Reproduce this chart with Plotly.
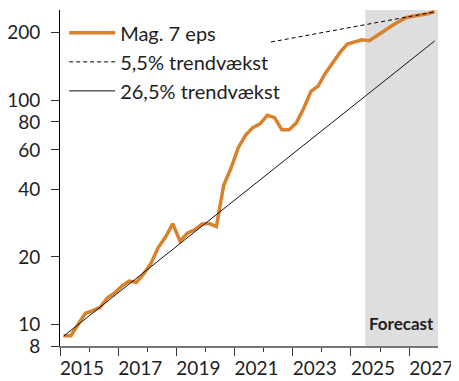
import plotly.graph_objects as go
import math

# ---- data ----
eps = [8.9, 8.9, 10.0, 11.2, 11.5, 11.9, 13.1, 13.8, 14.8, 15.6,
       15.4, 16.8, 18.7, 22.0, 24.5, 28.1, 23.5, 25.5, 26.4, 28.0,
       28.2, 27.3, 41.7, 49.7, 61.4, 69.8, 75.5, 78.5, 85.7, 83.6,
       73.8, 73.8, 79.3, 92.1, 109.7, 116.0, 132.5, 147.8, 163.5, 178.4,
       181.5, 186.3, 184.4, 193.1, 203.3, 214.0, 224.1, 233.5, 237.1, 239.6,
       243.4, 248.4]
first_quarter = 2014.375
quarter_step = 0.25
quarters = [first_quarter + quarter_step * i for i in range(len(eps))]

trend_low_x = [2014.375, 2027.125]
trend_low_y = [8.85, 184.0]      # 26,5% trendvækst
trend_high_x = [2021.5, 2027.125]
trend_high_y = [182.0, 248.0]    # 5,5% trendvækst

forecast_start = 2024.74
forecast_end = 2027.24

year_labels = ["2015", "2017", "2019", "2021", "2023", "2025", "2027"]
major_ticks = [2014.25, 2016.25, 2018.25, 2020.25, 2022.25, 2024.25, 2026.25]
minor_ticks = [2015.25, 2017.25, 2019.25, 2021.25, 2023.25, 2025.25]
y_ticks = [8, 10, 20, 40, 60, 80, 100, 200]

FONT = "Lato"
TXT = "#1e1e1e"
ORANGE = "#D9822B"

fig = go.Figure()
fig.add_trace(go.Scatter(x=quarters, y=eps, mode="lines", name="Mag. 7 eps",
                         line=dict(color=ORANGE, width=3.5)))
fig.add_trace(go.Scatter(x=trend_high_x, y=trend_high_y, mode="lines", name="5,5% trendvækst",
                         line=dict(color="#000000", width=1, dash="4px,3px")))
fig.add_trace(go.Scatter(x=trend_low_x, y=trend_low_y, mode="lines", name="26,5% trendvækst",
                         line=dict(color="#111111", width=1)))

fig.add_shape(type="rect", xref="x", yref="paper", x0=forecast_start, x1=forecast_end,
              y0=0, y1=1, fillcolor="#dedede", line=dict(width=0), layer="below")
fig.add_annotation(x=(forecast_start + forecast_end) / 2, y=0.03, xref="x", yref="paper",
                   text="<b>Forecast</b>", showarrow=False,
                   font=dict(family=FONT, size=17, color=TXT))

# page body has an 8px default margin, so the figure is sized to fit the window
fig.update_layout(
    width=451, height=373,
    margin=dict(l=52, r=21, t=2, b=35, autoexpand=False),
    paper_bgcolor="white", plot_bgcolor="white",
    font=dict(family=FONT, size=19, color=TXT),
    showlegend=True,
    legend=dict(x=0.011, y=0.99, xanchor="left", yanchor="top",
                bgcolor="rgba(0,0,0,0)", itemwidth=46,
                font=dict(family=FONT, size=20, color=TXT), tracegroupgap=0),
    xaxis=dict(range=[2014.25, forecast_end], showgrid=False, zeroline=False, automargin=False,
               showline=True, linecolor="#777777", linewidth=1.5,
               tickmode="array", tickvals=major_ticks, ticktext=year_labels,
               ticks="outside", ticklen=8, tickcolor="#333333", tickwidth=1,
               ticklabelshift=22, ticklabelstandoff=-4,
               minor=dict(tickvals=minor_ticks, ticks="outside", ticklen=4,
                          tickcolor="#333333", tickwidth=1, showgrid=False),
               tickfont=dict(family=FONT, size=19, color=TXT)),
    yaxis=dict(type="log", range=[math.log10(8), 2.403], showgrid=False, zeroline=False,
               automargin=False,
               showline=True, linecolor="#000000", linewidth=1,
               tickmode="array", tickvals=y_ticks, ticktext=[str(v) for v in y_ticks],
               ticks="outside", ticklen=8, tickcolor="#333333", tickwidth=1,
               ticklabelstandoff=7,
               tickfont=dict(family=FONT, size=19, color=TXT)),
)

fig.write_html("out.html")
